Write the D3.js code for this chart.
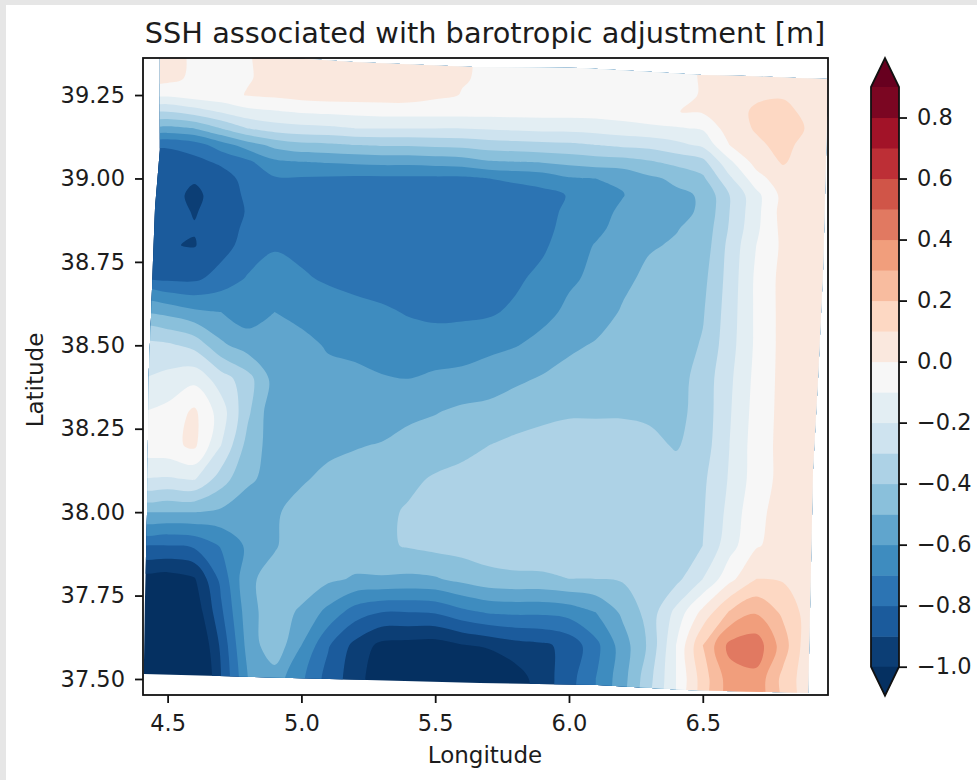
<!DOCTYPE html>
<html lang="en">
<head>
    <meta charset="UTF-8">
    <title>SSH associated with barotropic adjustment</title>
    <script src="https://d3js.org/d3.v7.min.js"></script>
    <style>
        html, body { margin: 0; padding: 0; background: #e6e6e6; }
        svg { display: block; }
        text { font-family: "DejaVu Sans", sans-serif; fill: #1c1c1c; }
        .tick text { font-size: 22.5px; }
        .tick line, .frame { stroke: #111; stroke-width: 1.8; }
    </style>
</head>
<body>
    <div id="chart"></div>
    <script type="text/javascript">
        // grid of the field
        const lons = [4.4, 4.5, 4.6, 4.7, 4.8, 4.9, 5.0, 5.1, 5.2, 5.3, 5.4, 5.5, 5.6, 5.7, 5.8, 5.9, 6.0, 6.1, 6.2, 6.3, 6.4, 6.5, 6.6, 6.7, 6.8, 6.9, 7.0];
        const lats = [39.4, 39.3, 39.25, 39.2, 39.15, 39.1, 39.05, 39.0, 38.95, 38.9, 38.85, 38.8, 38.7, 38.6, 38.5, 38.4, 38.3, 38.2, 38.1, 38.0, 37.9, 37.8, 37.7, 37.6, 37.5, 37.4];
        const ssh = [
            [.03,.03,-.02,-.03,-.005,.02,.03,.04,.04,.04,.04,.03,.01,-.02,-.02,-.02,-.02,-.02,-.02,-.02,-.02,.01,.05,.05,.05,.05,.05],
            [.03,.03,-.02,-.03,-.005,.02,.03,.04,.04,.04,.04,.03,.005,-.01,-.02,-.02,-.02,-.02,-.03,-.03,-.02,.005,.05,.06,.07,.05,.05],
            [-.08,-.08,-.05,-.03,.005,.02,.04,.05,.05,.05,.05,.02,-.003,-.03,-.03,-.03,-.03,-.03,-.03,-.03,-.02,.005,.05,.08,.09,.05,.05],
            [-.3,-.3,-.25,-.19,-.13,-.11,-.09,-.08,-.07,-.06,-.06,-.06,-.06,-.06,-.06,-.06,-.06,-.06,-.05,-.04,-.002,.01,.05,.12,.13,.07,.05],
            [-.53,-.53,-.5,-.4,-.3,-.25,-.23,-.22,-.2,-.2,-.2,-.2,-.2,-.19,-.18,-.17,-.17,-.16,-.14,-.12,-.11,-.09,.05,.11,.14,.09,.06],
            [-.79,-.79,-.75,-.65,-.55,-.47,-.43,-.42,-.4,-.39,-.39,-.38,-.37,-.35,-.34,-.33,-.32,-.3,-.28,-.27,-.23,-.18,0,.08,.13,.06,.05],
            [-.84,-.84,-.83,-.78,-.72,-.62,-.6,-.59,-.58,-.57,-.57,-.56,-.55,-.51,-.5,-.49,-.47,-.45,-.44,-.41,-.37,-.33,-.12,.04,.11,.05,.05],
            [-.84,-.86,-.89,-.85,-.76,-.71,-.71,-.715,-.72,-.72,-.72,-.72,-.72,-.7,-.68,-.66,-.61,-.6,-.585,-.52,-.48,-.42,-.22,-.04,.06,.05,.05],
            [-.85,-.865,-.92,-.86,-.78,-.725,-.725,-.74,-.75,-.75,-.755,-.755,-.755,-.76,-.75,-.73,-.695,-.63,-.605,-.54,-.52,-.49,-.3,-.13,.03,.04,.04],
            [-.84,-.87,-.905,-.87,-.79,-.74,-.74,-.76,-.78,-.78,-.785,-.79,-.79,-.78,-.77,-.75,-.67,-.64,-.58,-.54,-.52,-.49,-.3,-.13,.04,.04,.04],
            [-.84,-.875,-.895,-.855,-.775,-.725,-.73,-.75,-.765,-.77,-.775,-.785,-.785,-.78,-.765,-.74,-.655,-.62,-.57,-.53,-.505,-.47,-.29,-.12,.03,.03,.03],
            [-.83,-.895,-.905,-.84,-.76,-.71,-.72,-.74,-.75,-.76,-.765,-.78,-.78,-.77,-.755,-.72,-.64,-.595,-.56,-.51,-.49,-.46,-.27,-.1,.02,.03,.03],
            [-.8,-.82,-.82,-.76,-.69,-.66,-.69,-.71,-.72,-.73,-.735,-.75,-.76,-.745,-.72,-.67,-.615,-.58,-.525,-.475,-.45,-.43,-.26,-.08,.03,.03,.03],
            [-.5,-.53,-.58,-.6,-.65,-.6,-.63,-.66,-.68,-.69,-.705,-.72,-.72,-.715,-.68,-.63,-.58,-.55,-.49,-.47,-.45,-.41,-.25,-.08,.03,.03,.03],
            [-.27,-.28,-.33,-.48,-.55,-.54,-.57,-.61,-.63,-.66,-.67,-.66,-.65,-.625,-.605,-.57,-.52,-.49,-.45,-.45,-.45,-.39,-.24,-.08,.03,.03,.03],
            [-.2,-.17,-.13,-.25,-.36,-.54,-.55,-.57,-.57,-.59,-.6,-.58,-.57,-.55,-.52,-.49,-.46,-.44,-.43,-.43,-.44,-.36,-.22,-.07,.03,.03,.03],
            [-.1,-.07,.02,-.15,-.38,-.58,-.54,-.55,-.56,-.54,-.52,-.505,-.48,-.47,-.44,-.42,-.41,-.41,-.41,-.42,-.43,-.36,-.21,-.06,.03,.03,.03],
            [-.05,-.03,.02,-.2,-.44,-.55,-.53,-.52,-.505,-.495,-.47,-.45,-.42,-.4,-.38,-.37,-.36,-.36,-.36,-.37,-.41,-.35,-.2,-.05,.03,.03,.03],
            [-.2,-.21,-.19,-.35,-.49,-.52,-.51,-.48,-.47,-.46,-.42,-.39,-.38,-.37,-.36,-.34,-.33,-.33,-.33,-.34,-.35,-.32,-.19,-.05,.03,.03,.03],
            [-.5,-.5,-.5,-.52,-.53,-.51,-.47,-.45,-.44,-.42,-.39,-.36,-.34,-.33,-.32,-.32,-.32,-.32,-.32,-.32,-.34,-.31,-.17,-.02,.03,.03,.03],
            [-.8,-.8,-.78,-.69,-.58,-.51,-.44,-.44,-.44,-.42,-.39,-.37,-.36,-.35,-.34,-.33,-.33,-.33,-.33,-.33,-.35,-.3,-.14,-.01,.04,.04,.04],
            [-1.05,-1.05,-1.01,-.77,-.52,-.46,-.43,-.48,-.51,-.51,-.52,-.51,-.47,-.43,-.42,-.42,-.4,-.4,-.39,-.36,-.33,-.2,-.03,.1,.09,.03,.03],
            [-1.25,-1.25,-1.08,-.82,-.54,-.44,-.52,-.63,-.75,-.8,-.8,-.79,-.73,-.69,-.68,-.68,-.66,-.6,-.48,-.36,-.17,.03,.21,.29,.18,.05,.03],
            [-1.25,-1.25,-1.15,-.88,-.56,-.43,-.6,-.79,-.93,-1.03,-1.04,-1.05,-1.01,-.98,-.94,-.92,-.87,-.73,-.55,-.38,-.1,.2,.43,.46,.25,.02,.02],
            [-1.25,-1.25,-1.2,-.9,-.6,-.55,-.68,-.84,-.95,-1.08,-1.15,-1.17,-1.18,-1.18,-1.05,-.95,-.84,-.7,-.54,-.33,-.1,.15,.35,.37,.17,.03,.02],
            [-1.25,-1.25,-1.2,-.9,-.6,-.55,-.68,-.84,-.95,-1.08,-1.15,-1.17,-1.18,-1.18,-1.05,-.95,-.84,-.7,-.54,-.33,-.1,.15,.35,.37,.17,.03,.02]
        ];

        // edge of the model domain (outside it the field has no data)
        const edgeLon = [4.471, 4.808, 4.808, 5.021, 5.193, 5.641, 6.041, 6.314, 6.497, 6.665, 6.852, 6.968, 6.950, 6.931, 6.912, 6.894, 6.441, 6.105, 5.667, 4.411, 4.415, 4.423, 4.430, 4.438, 4.445, 4.453, 4.471];
        const edgeLat = [39.385, 39.385, 39.361, 39.358, 39.349, 39.334, 39.331, 39.319, 39.310, 39.307, 39.301, 39.298, 38.735, 38.405, 38.126, 37.458, 37.467, 37.482, 37.488, 37.515, 37.728, 37.997, 38.426, 38.585, 38.747, 38.914, 39.085];

        const levels = [-1, -.9, -.8, -.7, -.6, -.5, -.4, -.3, -.2, -.1, 0, .1, .2, .3, .4, .5, .6, .7, .8, .9];
        const rdBuStops = ["#053061", "#2166ac", "#4393c3", "#92c5de", "#d1e5f0", "#f7f7f7", "#fddbc7", "#f4a582", "#d6604d", "#b2182b", "#67001f"];
        const lonTicks = [4.5, 5.0, 5.5, 6.0, 6.5];
        const latTicks = [37.5, 37.75, 38.0, 38.25, 38.5, 38.75, 39.0, 39.25];
        const barTicks = [-1, -.8, -.6, -.4, -.2, 0, .2, .4, .6, .8];

        const W = 977, H = 780;
        const margin = {top: 58, right: 149, bottom: 85, left: 143};
        const x = d3.scaleLinear().domain([4.408, 6.968]).range([margin.left, W - margin.right]);
        const y = d3.scaleLinear().domain([37.452, 39.361]).range([H - margin.bottom, margin.top]);

        const cmap = d3.scaleLinear().domain(d3.range(11).map(i => i / 10)).range(rdBuStops).interpolate(d3.interpolateRgb);
        const levelColor = i => cmap((levels[i] + .05 + 1) / 1.9); // colour of the band above levels[i]
        const underColor = cmap(0), overColor = cmap(1);

        const svg = d3.select("#chart").append("svg").attr("width", W).attr("height", H);
        svg.append("rect").attr("x", 6).attr("y", 5).attr("width", W - 6).attr("height", H - 5).attr("fill", "#fff");

        const defs = svg.append("defs");
        defs.append("clipPath").attr("id", "axesClip").append("rect")
            .attr("x", x.range()[0]).attr("y", y.range()[1])
            .attr("width", x.range()[1] - x.range()[0]).attr("height", y.range()[0] - y.range()[1]);
        defs.append("clipPath").attr("id", "domainClip").append("path")
            .attr("d", d3.line().x(i => x(edgeLon[i])).y(i => y(edgeLat[i]))(d3.range(edgeLon.length)) + "Z");

        // grid index -> lon/lat -> pixels (rows are not evenly spaced)
        const colToLon = d3.scaleLinear().domain(d3.range(lons.length)).range(lons);
        const rowToLat = d3.scaleLinear().domain(d3.range(lats.length)).range(lats);
        const ringPath = d3.line().curve(d3.curveCatmullRomClosed.alpha(.5))
            .x(p => x(colToLon(p[0] - .5))).y(p => y(rowToLat(p[1] - .5)));
        const contourPath = c => c.coordinates.flat().map(ring => ringPath(ring.slice(0, -1))).join("");

        const contours = d3.contours().size([lons.length, lats.length]).smooth(true)
            .thresholds([-9].concat(levels))(ssh.flat());

        const field = svg.append("g").attr("clip-path", "url(#axesClip)")
            .append("g").attr("clip-path", "url(#domainClip)");
        field.selectAll("path").data(contours).join("path")
            .attr("d", contourPath)
            .attr("fill-rule", "evenodd")
            .attr("fill", (d, i) => i === 0 ? underColor : i === levels.length ? overColor : levelColor(i - 1));

        svg.append("g").attr("class", "axis").attr("transform", `translate(0,${y.range()[0]})`)
            .call(d3.axisBottom(x).tickValues(lonTicks).tickFormat(d3.format(".1f")).tickSize(8).tickPadding(12))
            .call(g => g.select(".domain").remove());
        svg.append("g").attr("class", "axis").attr("transform", `translate(${x.range()[0]},0)`)
            .call(d3.axisLeft(y).tickValues(latTicks).tickFormat(d3.format(".2f")).tickSize(8).tickPadding(10))
            .call(g => g.select(".domain").remove());
        svg.append("rect").attr("class", "frame").attr("fill", "none")
            .attr("x", x.range()[0]).attr("y", y.range()[1])
            .attr("width", x.range()[1] - x.range()[0]).attr("height", y.range()[0] - y.range()[1]);

        svg.append("text").attr("x", 485).attr("y", 43).attr("text-anchor", "middle").attr("font-size", 28.8)
            .text("SSH associated with barotropic adjustment [m]");
        svg.append("text").attr("x", 485).attr("y", 763).attr("text-anchor", "middle").attr("font-size", 23)
            .text("Longitude");
        svg.append("text").attr("transform", "translate(43,380) rotate(-90)").attr("text-anchor", "middle").attr("font-size", 23)
            .text("Latitude");

        // colorbar
        const barL = 871, barR = 899, barTip = 29;
        const barY = d3.scaleLinear().domain([-1, .9]).range([666.7, 87]);
        const bar = svg.append("g");
        bar.selectAll("rect").data(d3.range(levels.length - 1)).join("rect")
            .attr("x", barL).attr("width", barR - barL)
            .attr("y", i => barY(levels[i + 1])).attr("height", i => barY(levels[i]) - barY(levels[i + 1]) + .5)
            .attr("fill", levelColor);
        const barMid = (barL + barR) / 2;
        bar.append("path").attr("fill", overColor)
            .attr("d", `M${barL},${barY(.9)}L${barMid},${barY(.9) - barTip}L${barR},${barY(.9)}Z`);
        bar.append("path").attr("fill", underColor)
            .attr("d", `M${barL},${barY(-1)}L${barMid},${barY(-1) + barTip}L${barR},${barY(-1)}Z`);
        bar.append("path").attr("class", "frame").attr("fill", "none")
            .attr("d", `M${barL},${barY(.9)}L${barMid},${barY(.9) - barTip}L${barR},${barY(.9)}L${barR},${barY(-1)}L${barMid},${barY(-1) + barTip}L${barL},${barY(-1)}Z`);
        svg.append("g").attr("class", "axis").attr("transform", `translate(${barR},0)`)
            .call(d3.axisRight(barY).tickValues(barTicks).tickFormat(d => d3.format(".1f")(d).replace("-", "\u2212")).tickSize(8).tickPadding(10))
            .call(g => g.select(".domain").remove());
    </script>
</body>
</html>
